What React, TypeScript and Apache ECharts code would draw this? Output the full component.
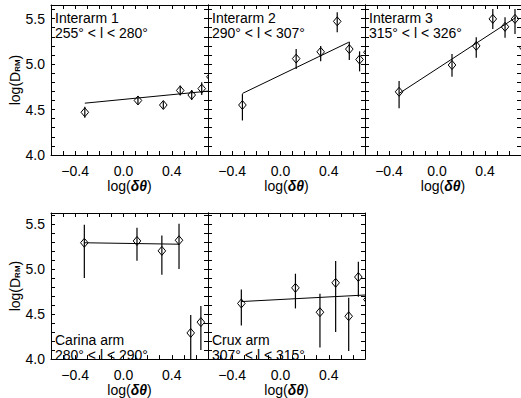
import React, { useEffect, useRef } from "react";
import * as echarts from "echarts";

// ---- data ----
const X_MIN = -0.6;
const X_MAX = 0.7;
const Y_MIN = 4.0;
const Y_MAX_TOP = 5.65;
const Y_MAX_BOTTOM = 5.62;
const X_TICK_LABELS = [-0.4, 0.0, 0.4];
const Y_TICK_LABELS = [4.0, 4.5, 5.0, 5.5];

const p1X = [-0.32, 0.12, 0.33, 0.47, 0.565, 0.648, 0.72];
const p1Y = [4.47, 4.6, 4.55, 4.71, 4.66, 4.73, 4.86];
const p1Lo = [4.41, 4.555, 4.51, 4.655, 4.605, 4.66, 4.8];
const p1Hi = [4.53, 4.645, 4.59, 4.765, 4.715, 4.8, 4.92];
const p1Fit = [[-0.32, 4.57], [0.72, 4.705]];

const p2X = [-0.315, 0.13, 0.333, 0.47, 0.57, 0.655, 0.72];
const p2Y = [4.55, 5.06, 5.135, 5.47, 5.165, 5.05, 5.13];
const p2Lo = [4.38, 4.945, 5.03, 5.35, 5.045, 4.92, 5.03];
const p2Hi = [4.67, 5.165, 5.2, 5.57, 5.245, 5.14, 5.23];
const p2Fit = [[-0.315, 4.677], [0.565, 5.24]];

const p3X = [-0.316, 0.125, 0.327, 0.465, 0.567, 0.65, 0.72];
const p3Y = [4.695, 4.99, 5.2, 5.497, 5.41, 5.497, 5.18];
const p3Lo = [4.515, 4.86, 5.07, 5.385, 5.29, 5.33, 5.08];
const p3Hi = [4.815, 5.11, 5.295, 5.605, 5.515, 5.605, 5.28];
const p3Fit = [[-0.316, 4.677], [0.658, 5.514]];

const p4X = [-0.324, 0.112, 0.318, 0.46, 0.557, 0.641];
const p4Y = [5.29, 5.31, 5.2, 5.318, 4.29, 4.41];
const p4Lo = [4.9, 5.09, 4.936, 5.0, 3.8, 4.1];
const p4Hi = [5.49, 5.456, 5.37, 5.5, 4.49, 4.59];
const p4Fit = [[-0.324, 5.29], [0.46, 5.274]];

const p5X = [-0.324, 0.124, 0.327, 0.457, 0.565, 0.645, 0.72];
const p5Y = [4.617, 4.79, 4.52, 4.846, 4.475, 4.91, 4.66];
const p5Lo = [4.373, 4.562, 4.13, 4.3, 4.09, 4.69, 4.45];
const p5Hi = [4.773, 4.947, 4.726, 5.089, 4.68, 5.08, 4.87];
const p5Fit = [[-0.324, 4.638], [0.72, 4.712]];

const panelTitles = ["Interarm 1", "Interarm 2", "Interarm 3", "Carina arm", "Crux arm"];
const panelRanges = [
  "255° < l < 280°",
  "290° < l < 307°",
  "315° < l < 326°",
  "280° < l < 290°",
  "307° < l < 315°",
];

const FONT = "Liberation Sans, Arial, sans-serif";

export default function App() {
  const ref = useRef<HTMLDivElement>(null);

  useEffect(() => {
    if (!ref.current) return;
    const chart = echarts.init(ref.current, undefined, { renderer: "svg" });

    const panels = [
      { x: p1X, y: p1Y, lo: p1Lo, hi: p1Hi, fit: p1Fit },
      { x: p2X, y: p2Y, lo: p2Lo, hi: p2Hi, fit: p2Fit },
      { x: p3X, y: p3Y, lo: p3Lo, hi: p3Hi, fit: p3Fit },
      { x: p4X, y: p4Y, lo: p4Lo, hi: p4Hi, fit: p4Fit },
      { x: p5X, y: p5Y, lo: p5Lo, hi: p5Hi, fit: p5Fit },
    ];

    const grids = [
      { left: 51, top: 5, width: 157, height: 150 },
      { left: 208, top: 5, width: 157, height: 150 },
      { left: 365, top: 5, width: 157, height: 150 },
      { left: 51, top: 213, width: 157, height: 149 },
      { left: 208, top: 213, width: 157, height: 149 },
    ];

    const black = "#000";
    const tick = { show: true, inside: true, length: 4, lineStyle: { color: black, width: 1 } };
    const axisLine = { show: true, onZero: false, lineStyle: { color: black, width: 1 } };

    const xLabelFmt = (v: number) => {
      const r = Math.round(v * 10) / 10;
      if (!X_TICK_LABELS.some((t) => Math.abs(t - r) < 1e-6)) return "";
      const s = Math.abs(r).toFixed(1);
      return r < 0 ? "\u2212" + s : s;
    };
    const yLabelFmt = (v: number) => {
      const r = Math.round(v * 10) / 10;
      if (!Y_TICK_LABELS.some((t) => Math.abs(t - r) < 1e-6)) return "";
      return r.toFixed(1);
    };

    const xAxis: any[] = [];
    const yAxis: any[] = [];
    const series: any[] = [];
    const graphic: any[] = [];

    panels.forEach((p, i) => {
      const yMax = i < 3 ? Y_MAX_TOP : Y_MAX_BOTTOM;
      xAxis.push({
        type: "value",
        gridIndex: i,
        position: "bottom",
        min: X_MIN,
        max: X_MAX,
        interval: 0.1,
        axisLine,
        axisTick: tick,
        splitLine: { show: false },
        axisLabel: {
          show: true,
          formatter: xLabelFmt,
          color: black,
          fontSize: 14,
          fontFamily: FONT,
          margin: 9,
          showMinLabel: false,
          showMaxLabel: false,
        },
        name: "{a|log(}{b|δθ}{a|)}",
        nameLocation: "middle",
        nameGap: 22,
        nameTextStyle: {
          rich: {
            a: { fontSize: 14, fontFamily: FONT, color: black },
            b: { fontSize: 14, fontFamily: FONT, color: black, fontWeight: "bold", fontStyle: "italic" },
          },
        },
      });
      xAxis.push({
        type: "value",
        gridIndex: i,
        position: "top",
        min: X_MIN,
        max: X_MAX,
        interval: 0.1,
        axisLine,
        axisTick: tick,
        splitLine: { show: false },
        axisLabel: { show: false },
      });
      const showY = i === 0 || i === 3;
      yAxis.push({
        type: "value",
        gridIndex: i,
        position: "left",
        min: Y_MIN,
        max: yMax,
        interval: 0.1,
        axisLine,
        axisTick: tick,
        splitLine: { show: false },
        axisLabel: {
          show: showY,
          formatter: yLabelFmt,
          color: black,
          fontSize: 14,
          fontFamily: FONT,
          margin: 6,
          showMaxLabel: false,
        },
        name: showY ? "{a|log(D}{s|RM}{a|)}" : "",
        nameLocation: "middle",
        nameGap: 29,
        nameTextStyle: {
          rich: {
            a: { fontSize: 14, fontFamily: FONT, color: black },
            s: { fontSize: 8, fontFamily: FONT, color: black, fontWeight: "bold", verticalAlign: "bottom", padding: [6, 0, 0, 0] },
          },
        },
      });
      yAxis.push({
        type: "value",
        gridIndex: i,
        position: "right",
        min: Y_MIN,
        max: yMax,
        interval: 0.1,
        axisLine,
        axisTick: tick,
        splitLine: { show: false },
        axisLabel: { show: false },
      });

      const data = p.x.map((xv, k) => [xv, p.y[k], p.lo[k], p.hi[k]]);
      series.push({
        type: "custom",
        xAxisIndex: 2 * i,
        yAxisIndex: 2 * i,
        clip: true,
        data,
        renderItem: (params: any, api: any) => {
          const x = api.value(0);
          const y = api.value(1);
          const c = api.coord([x, y]);
          const lo = api.coord([x, api.value(2)]);
          const hi = api.coord([x, api.value(3)]);
          return {
            type: "group",
            children: [
              {
                type: "line",
                shape: { x1: lo[0], y1: lo[1], x2: hi[0], y2: hi[1] },
                style: { stroke: black, lineWidth: 1.2 },
              },
              {
                type: "polygon",
                shape: {
                  points: [
                    [c[0], c[1] - 4.5],
                    [c[0] + 3.8, c[1]],
                    [c[0], c[1] + 4.5],
                    [c[0] - 3.8, c[1]],
                  ],
                },
                style: { fill: "none", stroke: black, lineWidth: 1 },
              },
            ],
          };
        },
      });
      series.push({
        type: "line",
        xAxisIndex: 2 * i,
        yAxisIndex: 2 * i,
        data: p.fit,
        symbol: "none",
        clip: true,
        lineStyle: { color: black, width: 1 },
      });

      const g = grids[i];
      const topY = i < 3 ? 10 : 332;
      graphic.push({
        type: "text",
        left: g.left + 4,
        top: topY,
        style: {
          text: panelTitles[i] + "\n" + panelRanges[i],
          fontSize: 14,
          lineHeight: 15.5,
          fontFamily: FONT,
          fill: black,
        },
      });
    });

    chart.setOption({
      animation: false,
      backgroundColor: "#fff",
      grid: grids.map((g) => ({ ...g, containLabel: false })),
      xAxis,
      yAxis,
      series,
      graphic,
    });

    return () => chart.dispose();
  }, []);

  return (
    <div
      ref={ref}
      style={{ position: "fixed", left: 0, top: 0, width: 521, height: 398 }}
    />
  );
}
